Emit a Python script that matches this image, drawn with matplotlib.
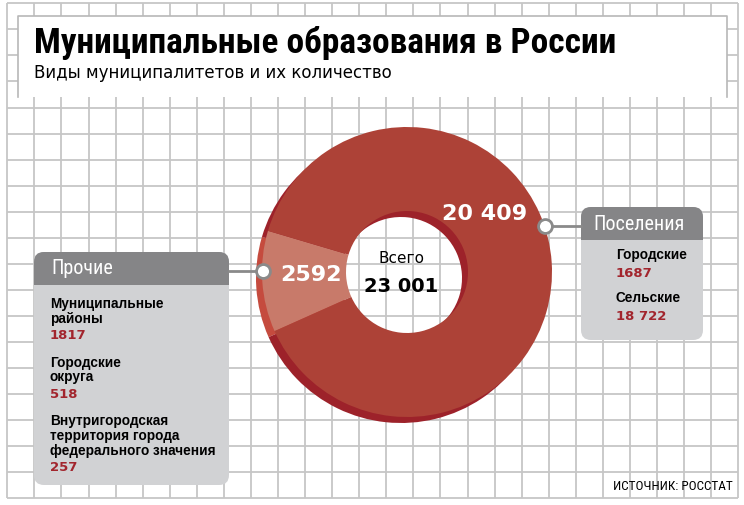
import numpy as np
import matplotlib
matplotlib.use('Agg')
import matplotlib.pyplot as plt
from matplotlib import font_manager
from matplotlib.patches import FancyBboxPatch, Rectangle

# --- data ---
total = 23001
group_names = ['Прочие', 'Поселения']
group_values = [2592, 20409]

prochie_labels = ['Муниципальные\nрайоны', 'Городские\nокруга',
                  'Внутригородская\nтерритория города\nфедерального значения']
prochie_values = [1817, 518, 257]

poselenia_labels = ['Городские', 'Сельские']
poselenia_values = [1687, 18722]

title = 'Муниципальные образования в России'
subtitle = 'Виды муниципалитетов и их количество'
source = 'ИСТОЧНИК: РОССТАТ'

# colours
RED = '#ad4237'
RED_LIGHT = '#c87a6a'
RED_DARK = '#9d222a'
RED_EDGE = '#c54b3e'
NUM_RED = '#a2252d'
HEAD_GRAY = '#858587'
BODY_GRAY = '#d1d2d4'
GRID = '#c6c6c6'
LINE_GRAY = '#8a8a8a'

installed = {f.name for f in font_manager.fontManager.ttflist}
narrow = next((n for n in ['Liberation Sans Narrow', 'Roboto Condensed', 'DejaVu Sans Condensed']
               if n in installed), 'Liberation Sans')


def fmt(v):
    # 4-digit numbers without separator, as in the original
    return f'{v:,}'.replace(',', ' ') if v >= 10000 else str(v)


fig = plt.figure(figsize=(7.44, 5.05), dpi=100)
ax = fig.add_axes([0, 0, 1, 1])

# grid background
gx = np.linspace(7.3, 738.3, 28)
gy = np.linspace(3.3, 498.3, 20)
ax.vlines(gx, gy[0], gy[-1], color=GRID, lw=1.3, zorder=1)
ax.hlines(gy, gx[0], gx[-1], color=GRID, lw=1.3, zorder=1)

# title box
ax.add_patch(Rectangle((18, 16), 709, 81, facecolor='white', edgecolor='none', zorder=2))
ax.plot([18, 18, 727, 727], [97, 16, 16, 97], color='#b8b8b8', lw=1.2, zorder=2)
ax.text(34, 53.5, title, fontsize=25.5, fontweight='bold', family=narrow,
        va='baseline', ha='left', zorder=5)
ax.text(34, 77.5, subtitle, fontsize=12, family='DejaVu Sans',
        va='baseline', ha='left', zorder=5)

# donut: dark "side" first, then the face
frac = group_values[0] / total
start = -(163.5 + 360 * frac)
c_face = (407, 272)
c_side = (401, 278)
R, r = 145, 61
ax.pie(group_values, colors=[RED_EDGE, RED_DARK], startangle=start, counterclock=True,
       radius=R, center=c_side, wedgeprops=dict(width=R - r, linewidth=0, zorder=3))
ax.pie(group_values, colors=[RED_LIGHT, RED], startangle=start, counterclock=True,
       radius=R, center=c_face, wedgeprops=dict(width=R - r, linewidth=0, zorder=3))

ax.text(311, 281, fmt(group_values[0]), fontsize=16, fontweight='bold', color='white',
        family='DejaVu Sans', ha='center', va='baseline', zorder=5)
ax.text(485, 219.5, fmt(group_values[1]), fontsize=16, fontweight='bold', color='white',
        family='DejaVu Sans', ha='center', va='baseline', zorder=5)
ax.text(401, 263, 'Всего', fontsize=11, family='DejaVu Sans', ha='center',
        va='baseline', zorder=5)
ax.text(401, 291.5, fmt(total), fontsize=14, fontweight='bold', family='DejaVu Sans',
        ha='center', va='baseline', zorder=5)


def callout(x0, y0, w, h, head_h, name, pad):
    ax.add_patch(FancyBboxPatch((x0, y0), w, h, boxstyle='round,pad=0,rounding_size=10',
                                facecolor=BODY_GRAY, edgecolor='none', zorder=4))
    ax.add_patch(FancyBboxPatch((x0, y0), w, head_h, boxstyle='round,pad=0,rounding_size=10',
                                facecolor=HEAD_GRAY, edgecolor='none', zorder=4))
    ax.add_patch(Rectangle((x0, y0 + head_h - 11), w, 11, facecolor=HEAD_GRAY,
                           edgecolor='none', zorder=4))
    ax.text(x0 + pad, y0 + head_h - 10.5, name, fontsize=14.5, color='white', family=narrow,
            ha='left', va='baseline', zorder=5)


# left box "Прочие"
callout(34, 252, 195, 233, 33, group_names[0], 17)
ax.plot([229, 263], [271, 271], color=LINE_GRAY, lw=2, zorder=4)
ax.plot([263], [271], 'o', ms=10, mfc='white', mec=LINE_GRAY, mew=2, zorder=5)

y = 308
for lab, val in zip(prochie_labels, prochie_values):
    for line in lab.split('\n'):
        ax.text(50, y, line, fontsize=9.8, fontweight='bold', family='Liberation Sans',
                ha='left', va='baseline', zorder=5)
        y += 15
    y += 1
    ax.text(50, y, fmt(val), fontsize=9.5, fontweight='bold', color=NUM_RED,
            family='DejaVu Sans', ha='left', va='baseline', zorder=5)
    y += 27.5

# right box "Поселения"
callout(581, 207, 122, 133, 33, group_names[1], 12)
ax.plot([545, 581], [226, 226], color=LINE_GRAY, lw=2, zorder=4)
ax.plot([545], [226], 'o', ms=10, mfc='white', mec=LINE_GRAY, mew=2, zorder=5)

y = 259
for lab, val in zip(poselenia_labels, poselenia_values):
    ax.text(616, y, lab, fontsize=9.8, fontweight='bold', family='Liberation Sans',
            ha='left', va='baseline', zorder=5)
    ax.text(616, y + 18, fmt(val), fontsize=9.5, fontweight='bold', color=NUM_RED,
            family='DejaVu Sans', ha='left', va='baseline', zorder=5)
    y += 42.5

ax.text(733, 490, source, fontsize=9.5, family=narrow, ha='right', va='baseline', zorder=5)

ax.set_xlim(0, 744)
ax.set_ylim(505, 0)
ax.set_aspect('auto')
ax.axis('off')

fig.savefig('out.png', dpi=100)
